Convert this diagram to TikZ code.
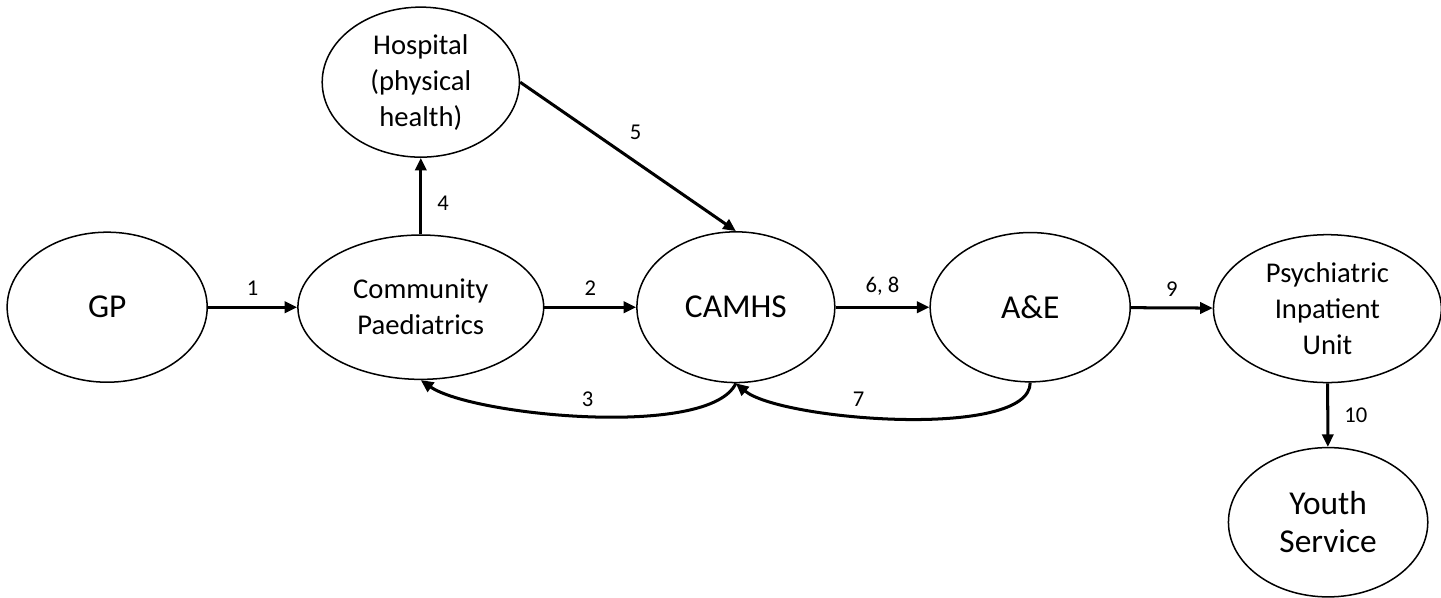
\documentclass[tikz,border=0pt]{standalone}
\usepackage{fontspec}
\setmainfont{Carlito}
\usetikzlibrary{arrows.meta, shapes.geometric}

\begin{document}
\begin{tikzpicture}[
    unit/.style={ellipse, draw, line width=0.6pt, inner sep=0pt, align=center, font=\fontsize{11.4}{14.3}\selectfont},
    bigunit/.style={unit, font=\fontsize{13.3}{15.2}\selectfont},
    link/.style={-{Triangle[length=5pt,width=4.5pt]}, line width=1.2pt},
    num/.style={font=\fontsize{9}{10}\selectfont, inner sep=1pt}
]
    \useasboundingbox (0, 0) rectangle (20.17, 8.37);

    \node[bigunit, minimum width=2.80cm, minimum height=2.10cm] at (1.50, 4.07)  (gp) {GP};
    \node[unit, minimum width=3.44cm, minimum height=2.02cm] at (5.89, 4.07)     (comm) {Community\\Paediatrics};
    \node[unit, minimum width=2.76cm, minimum height=2.10cm] at (5.89, 7.22)     (hosp) {Hospital\\(physical\\health)};
    \node[bigunit, minimum width=2.77cm, minimum height=2.11cm] at (10.30, 4.07) (camhs) {CAMHS};
    \node[bigunit, minimum width=2.80cm, minimum height=2.09cm] at (14.42, 4.07) (ae) {A\&E};
    \node[unit, minimum width=3.19cm, minimum height=2.07cm] at (18.58, 4.05)    (psych) {Psychiatric\\Inpatient\\Unit};
    \node[bigunit, minimum width=2.79cm, minimum height=2.09cm] at (18.59, 1.06) (youth) {Youth\\Service};

    \draw[link] (gp) -- node[num, above=3pt] {1} (comm);
    \draw[link] (comm) -- node[num, above=3pt] {2} (camhs);
    \draw[link] (camhs.south) to[out=-115, in=-35, looseness=0.5] node[num, above=2pt] {3} (comm.south);
    \draw[link] (comm) -- node[num, right=5pt, pos=0.4] {4} (hosp);
    \draw[link] (hosp.east) -- node[num, above=5pt, xshift=3pt] {5} (camhs.north);
    \draw[link] (camhs) -- node[num, above=3pt] {6, 8} (ae);
    \draw[link] (ae.south) to[out=-90, in=-40, looseness=0.5] node[num, above=2pt, pos=0.6] {7} (camhs.south);
    \draw[link] (ae) -- node[num, above=3pt] {9} (psych);
    \draw[link] (psych) -- node[num, right=5pt] {10} (youth);
\end{tikzpicture}
\end{document}
